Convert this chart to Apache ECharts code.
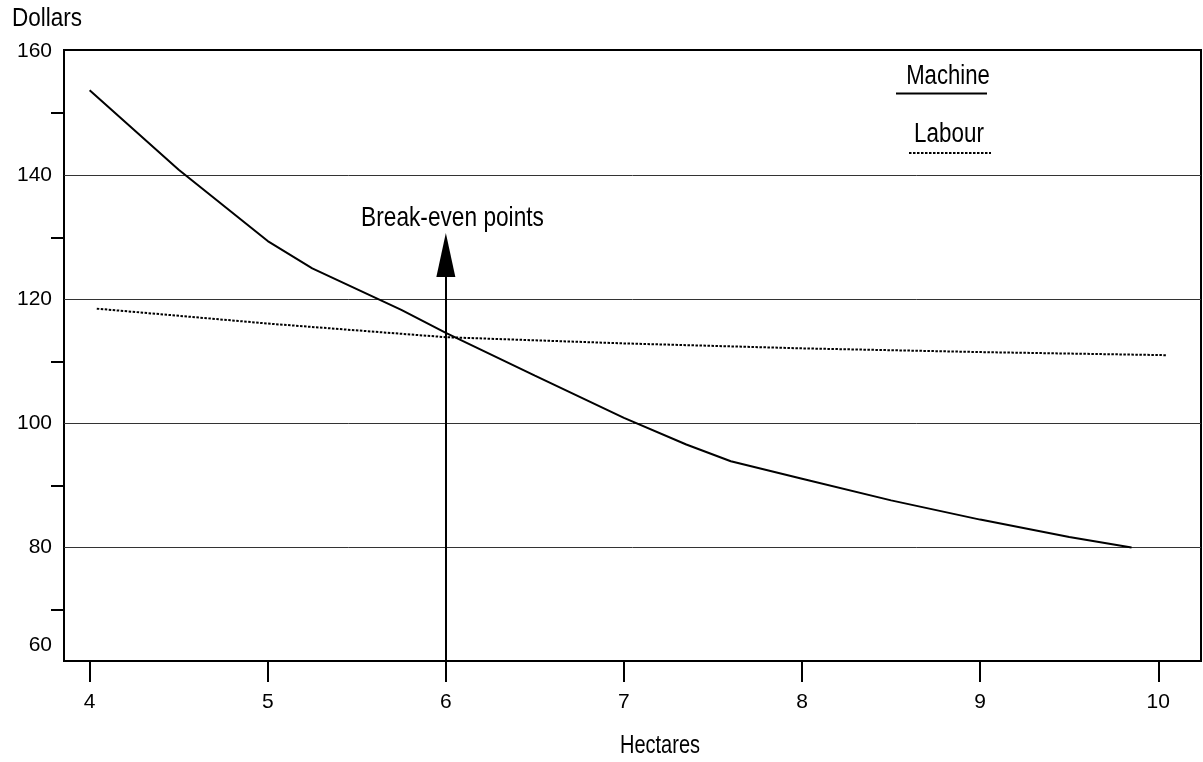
<!DOCTYPE html>
<html>
<head>
<meta charset="utf-8">
<script src="https://cdn.jsdelivr.net/npm/echarts@6/dist/echarts.min.js"></script>
<style>
  html, body { margin: 0; padding: 0; background: #fff; }
  #chart { width: 1203px; height: 762px; }
</style>
</head>
<body>
<div id="chart"></div>
<script>
// ---- data ----
const xTickValues = [4, 5, 6, 7, 8, 9, 10];
const yLabelValues = [80, 100, 120, 140, 160];
const yMinorTickValues = [70, 90, 110, 130, 150];
const gridLineValues = [80, 100, 120, 140];
const yBottomLabel = '60';

const machineX = [4, 4.5, 5, 5.25, 5.75, 6, 6.5, 7, 7.35, 7.6, 8, 8.5, 9, 9.5, 9.85];
const machineY = [153.7, 140.9, 129.4, 125.0, 118.3, 114.6, 107.7, 100.9, 96.6, 93.9, 91.1, 87.6, 84.5, 81.7, 80.0];

const labourX = [4.04, 5, 6, 7, 8, 9, 10.05];
const labourY = [118.5, 116.1, 113.9, 112.9, 112.1, 111.5, 111.0];

const breakEvenX = 6;
const breakEvenArrowTop = 127.15;

const xMin = 3.856, xMax = 10.24;
const yMin = 61.71, yMax = 160.19;

const FONT = '"Liberation Sans", Arial, sans-serif';

const chart = echarts.init(document.getElementById('chart'), null, { renderer: 'canvas' });

const zip = (xs, ys) => xs.map((x, i) => [x, ys[i]]);

// narrow-looking text (the reference uses a condensed sans face)
function narrowText(text, x, y, size, sx, align) {
  return {
    type: 'text', x: x, y: y, scaleX: sx, silent: true,
    style: { text: text, fill: '#000', font: size + 'px ' + FONT, align: align || 'center', verticalAlign: 'middle' }
  };
}

const option = {
  animation: false,
  backgroundColor: '#fff',
  grid: {
    left: 64, top: 50, right: 2, bottom: 101,
    show: true, borderColor: '#000', borderWidth: 2,
    containLabel: false, outerBoundsMode: 'none'
  },
  xAxis: {
    type: 'value', min: xMin, max: xMax,
    axisLine: { show: true, lineStyle: { color: '#000', width: 2 } },
    axisTick: { show: true, customValues: xTickValues, length: 21, lineStyle: { color: '#000', width: 2 } },
    axisLabel: { customValues: xTickValues, margin: 31, color: '#000', fontSize: 21, fontFamily: FONT },
    splitLine: { show: false }
  },
  yAxis: {
    type: 'value', min: yMin, max: yMax,
    axisLine: { show: true, lineStyle: { color: '#000', width: 2 } },
    axisTick: { show: true, customValues: yMinorTickValues, length: 13, lineStyle: { color: '#000', width: 2 } },
    axisLabel: { customValues: yLabelValues, margin: 12, color: '#000', fontSize: 21, fontFamily: FONT },
    splitLine: { show: false }
  },
  graphic: [
    narrowText('Dollars', 12, 19, 25, 0.9, 'left'),
    {
      type: 'text', x: 52, y: 645, silent: true,
      style: { text: yBottomLabel, fill: '#000', font: '21px ' + FONT, align: 'right', verticalAlign: 'middle' }
    },
    narrowText('Hectares', 660, 746, 25, 0.8),
    narrowText('Machine', 948, 77, 27, 0.82),
    { type: 'line', shape: { x1: 896, y1: 93.5, x2: 987, y2: 93.5 }, style: { stroke: '#000', lineWidth: 2 } },
    narrowText('Labour', 949, 135, 27, 0.83),
    { type: 'line', shape: { x1: 909, y1: 153, x2: 991, y2: 153 }, style: { stroke: '#000', lineWidth: 2, lineDash: [2.5, 1.5] } },
    narrowText('Break-even points', 452.5, 218, 28, 0.81)
  ],
  series: [
    {
      name: 'Labour', type: 'line', symbol: 'none', smooth: false,
      data: zip(labourX, labourY),
      lineStyle: { color: '#000', width: 2, type: [2.5, 1.5] },
      z: 3,
      markLine: {
        silent: true, symbol: ['none', 'none'],
        label: { show: false },
        lineStyle: { color: '#333', width: 1, type: 'solid' },
        data: gridLineValues.map(v => ({ yAxis: v })),
        z: 1
      }
    },
    {
      name: 'Machine', type: 'line', symbol: 'none', smooth: false,
      data: zip(machineX, machineY),
      lineStyle: { color: '#000', width: 2 },
      z: 4,
      markLine: {
        silent: true,
        symbol: ['none', 'triangle'],
        symbolSize: [19, 44],
        lineStyle: { color: '#000', width: 2, type: 'solid' },
        itemStyle: { color: '#000' },
        label: { show: false },
        data: [[{ coord: [breakEvenX, yMin] }, { coord: [breakEvenX, breakEvenArrowTop] }]]
      }
    }
  ]
};

chart.setOption(option);
</script>
</body>
</html>
